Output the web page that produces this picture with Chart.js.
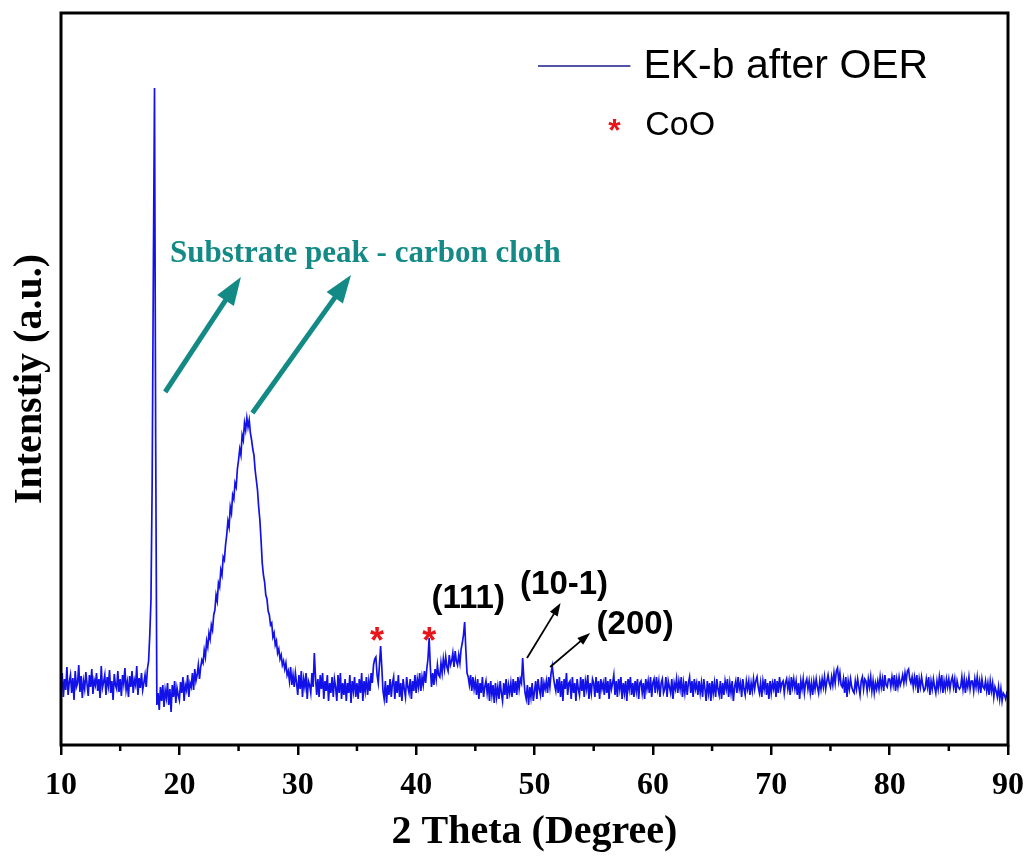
<!DOCTYPE html>
<html>
<head>
<meta charset="utf-8">
<script src="https://cdn.jsdelivr.net/npm/chart.js@4.4.1/dist/chart.umd.min.js"></script>
<style>
  html, body { margin: 0; padding: 0; background: #fff; }
  #wrap { width: 1030px; height: 857px; }
</style>
</head>
<body>
<div id="wrap"><canvas id="xrd" width="1030" height="857"></canvas></div>
<script>
const START = 10
const STEP = 0.1

// intensity (a.u.), one row per degree: x.0 ... x.9
const intensity = [
  60, 72, 48, 66, 55, 78, 50, 63, 70, 52,        // 10
  67, 45, 74, 58, 62, 80, 53, 69, 47, 64,        // 11
  56, 73, 61, 49, 70, 58, 76, 51, 65, 60,        // 12
  72, 54, 66, 47, 79, 57, 63, 70, 50, 68,        // 13
  59, 75, 52, 64, 45, 71, 60, 56, 74, 53,        // 14
  66, 49, 70, 61, 77, 55, 63, 48, 69, 58,        // 15
  74, 52, 65, 60, 79, 50, 67, 57, 72, 55,        // 16
  62, 70, 58, 76, 84, 110, 145, 260, 470, 657,   // 17
  300, 40, 52, 35, 58, 44, 60, 38, 55, 47,       // 18
  62, 40, 56, 33, 60, 48, 64, 42, 57, 50,        // 19
  45, 63, 52, 68, 44, 60, 55, 70, 48, 62,        // 20
  58, 72, 55, 76, 64, 70, 80, 66, 78, 85,        // 21
  82, 95, 88, 104, 98, 112, 106, 120, 115, 130,  // 22
  135, 150, 144, 162, 158, 175, 170, 188, 185, 200, // 23
  210, 224, 218, 238, 232, 250, 246, 262, 258, 276, // 24
  285, 296, 290, 310, 305, 322, 315, 327, 318, 325, // 25
  312, 305, 296, 290, 275, 265, 255, 238, 225, 205, // 26
  182, 170, 163, 150, 146, 134, 130, 120, 122, 108, // 27
  112, 100, 104, 92, 96, 86, 90, 80, 84, 76,     // 28
  82, 70, 74, 64, 78, 60, 70, 58, 72, 62,        // 29
  50, 70, 56, 74, 48, 66, 58, 72, 46, 64,        // 30
  60, 52, 72, 58, 92, 68, 50, 66, 48, 70,        // 31
  56, 72, 46, 64, 54, 70, 44, 62, 52, 68,        // 32
  48, 66, 58, 44, 70, 52, 72, 46, 62, 50,        // 33
  66, 44, 62, 52, 70, 42, 64, 54, 68, 48,        // 34
  62, 46, 66, 52, 72, 44, 64, 54, 68, 50,        // 35
  64, 54, 72, 62, 80, 86, 88, 70, 62, 80,        // 36
  99, 78, 54, 46, 64, 42, 60, 50, 66, 48,        // 37
  62, 68, 46, 64, 52, 70, 48, 62, 44, 66,        // 38
  56, 48, 68, 58, 52, 66, 46, 64, 54, 70,        // 39
  52, 66, 58, 72, 54, 68, 60, 74, 62, 76,        // 40
  86, 107, 78, 58, 72, 60, 76, 66, 80, 70,       // 41
  68, 82, 72, 86, 76, 88, 78, 74, 90, 80,        // 42
  84, 92, 78, 94, 84, 80, 90, 82, 96, 102,       // 43
  110, 123, 95, 72, 68, 60, 70, 54, 68, 56,      // 44
  64, 50, 66, 46, 62, 52, 68, 48, 58, 64,        // 45
  52, 62, 44, 64, 50, 60, 42, 62, 48, 58,        // 46
  46, 64, 52, 44, 62, 50, 66, 46, 60, 52,        // 47
  62, 48, 66, 52, 64, 50, 68, 56, 66, 62,        // 48
  87, 66, 52, 46, 60, 40, 58, 48, 62, 44,        // 49
  54, 64, 46, 66, 56, 50, 68, 48, 62, 56,        // 50
  64, 52, 68, 58, 72, 79, 68, 60, 54, 66,        // 51
  52, 68, 48, 64, 44, 66, 56, 72, 50, 62,        // 52
  64, 46, 68, 52, 62, 44, 66, 56, 50, 68,        // 53
  54, 66, 48, 64, 56, 70, 46, 62, 52, 66,        // 54
  62, 48, 68, 52, 64, 46, 66, 56, 62, 50,        // 55
  68, 52, 64, 46, 66, 56, 62, 70, 50, 64,        // 56
  48, 66, 56, 68, 46, 62, 52, 64, 44, 66,        // 57
  56, 68, 50, 62, 48, 64, 54, 66, 46, 62,        // 58
  64, 52, 62, 46, 66, 56, 64, 52, 68, 48,        // 59
  62, 66, 52, 68, 56, 64, 48, 62, 66, 52,        // 60
  56, 68, 48, 64, 58, 52, 66, 46, 62, 56,        // 61
  66, 52, 64, 56, 68, 48, 62, 52, 64, 50,        // 62
  62, 68, 52, 64, 48, 66, 56, 62, 50, 64,        // 63
  52, 62, 48, 66, 56, 44, 64, 52, 62, 44,        // 64
  64, 52, 62, 48, 66, 56, 50, 64, 46, 62,        // 65
  50, 64, 56, 66, 48, 62, 52, 64, 44, 58,        // 66
  64, 52, 68, 56, 62, 48, 66, 56, 50, 64,        // 67
  56, 64, 50, 62, 54, 66, 56, 64, 68, 58,        // 68
  52, 62, 48, 64, 56, 66, 50, 62, 46, 64,        // 69
  52, 62, 56, 66, 48, 64, 52, 68, 56, 62,        // 70
  64, 52, 62, 66, 56, 64, 50, 68, 58, 66,        // 71
  56, 64, 50, 62, 46, 64, 56, 66, 52, 62,        // 72
  66, 56, 64, 52, 62, 50, 64, 56, 66, 58,        // 73
  52, 64, 56, 66, 58, 68, 56, 64, 70, 62,        // 74
  58, 68, 60, 72, 62, 74, 77, 64, 72, 60,        // 75
  58, 66, 52, 68, 48, 64, 56, 66, 58, 54,        // 76
  52, 64, 56, 66, 58, 50, 64, 68, 56, 66,        // 77
  64, 54, 66, 58, 68, 54, 64, 52, 62, 56,        // 78
  64, 56, 68, 58, 66, 54, 70, 60, 58, 66,        // 79
  66, 58, 68, 60, 70, 54, 66, 58, 68, 60,        // 80
  64, 70, 62, 72, 64, 74, 76, 66, 62, 68,        // 81
  58, 68, 60, 70, 52, 66, 58, 68, 60, 54,        // 82
  56, 66, 58, 68, 50, 64, 56, 66, 58, 52,        // 83
  64, 56, 68, 58, 70, 52, 64, 56, 66, 58,        // 84
  66, 56, 64, 68, 58, 66, 52, 64, 58, 56,        // 85
  58, 68, 56, 66, 52, 64, 58, 68, 56, 64,        // 86
  64, 54, 66, 58, 68, 56, 64, 52, 66, 58,        // 87
  56, 64, 54, 62, 50, 64, 54, 62, 48, 58,        // 88
  54, 48, 58, 46, 56, 44, 52, 50, 46, 52,        // 89
  50                                             // 90
]

const xTicks = [10, 20, 30, 40, 50, 60, 70, 80, 90]
const xMinor = [15, 25, 35, 45, 55, 65, 75, 85]

// peak labels: [text, 2theta, intensity]
const hklLabels = [['(111)', 44.4, 146], ['(10-1)', 52.5, 160], ['(200)', 58.5, 120]]
const cooStars = [[36.7, 113], [41.1, 113]]
// pointer arrows: [from 2theta, from I, to 2theta, to I]
const hklArrows = [[49.37, 87, 52.2, 142], [51.32, 78, 54.7, 112]]
const substrateArrows = [[18.8, 353, 25.2, 468], [26.17, 332, 34.5, 470]]

const points = intensity.map((v, i) => ({ x: +(START + i * STEP).toFixed(1), y: v }))

const TEAL = '#138a85'
const SERIF = '"Liberation Serif", "Times New Roman", serif'
const SANS = '"Liberation Sans", Arial, sans-serif'

function arrow(ctx, x1, y1, x2, y2, lw, headLen, headW, color) {
  const a = Math.atan2(y2 - y1, x2 - x1)
  const bx = x2 - Math.cos(a) * headLen
  const by = y2 - Math.sin(a) * headLen
  ctx.strokeStyle = color
  ctx.fillStyle = color
  ctx.lineWidth = lw
  ctx.beginPath()
  ctx.moveTo(x1, y1)
  ctx.lineTo(bx + Math.cos(a) * 2, by + Math.sin(a) * 2)
  ctx.stroke()
  ctx.beginPath()
  ctx.moveTo(x2, y2)
  ctx.lineTo(bx + Math.sin(a) * headW / 2, by - Math.cos(a) * headW / 2)
  ctx.lineTo(bx - Math.sin(a) * headW / 2, by + Math.cos(a) * headW / 2)
  ctx.closePath()
  ctx.fill()
}

const overlay = {
  id: 'overlay',
  afterDraw(chart) {
    const { ctx, chartArea: ca, scales: { x, y } } = chart
    ctx.save()

    // frame
    ctx.strokeStyle = '#000'
    ctx.lineWidth = 3
    ctx.strokeRect(ca.left, ca.top, ca.right - ca.left, ca.bottom - ca.top)

    // minor ticks
    ctx.lineWidth = 2.5
    xMinor.forEach(v => {
      const px = x.getPixelForValue(v)
      ctx.beginPath()
      ctx.moveTo(px, ca.bottom)
      ctx.lineTo(px, ca.bottom + 6)
      ctx.stroke()
    })

    // substrate annotation
    ctx.fillStyle = TEAL
    ctx.font = 'bold 31px ' + SERIF
    ctx.textAlign = 'left'
    ctx.textBaseline = 'middle'
    ctx.fillText('Substrate peak - carbon cloth', x.getPixelForValue(19.2), y.getPixelForValue(491))
    substrateArrows.forEach(([a, b, c, d]) => {
      arrow(ctx, x.getPixelForValue(a), y.getPixelForValue(b), x.getPixelForValue(c), y.getPixelForValue(d), 5, 28, 20, TEAL)
    })

    // CoO stars
    ctx.fillStyle = '#e8161b'
    ctx.font = 'bold 36px ' + SANS
    ctx.textAlign = 'center'
    ctx.textBaseline = 'alphabetic'
    cooStars.forEach(([a, b]) => {
      ctx.fillText('*', x.getPixelForValue(a), y.getPixelForValue(b) + 21)
    })

    // hkl labels and arrows
    ctx.fillStyle = '#000'
    ctx.font = 'bold 33px ' + SANS
    ctx.textBaseline = 'middle'
    hklLabels.forEach(([t, a, b]) => {
      ctx.fillText(t, x.getPixelForValue(a), y.getPixelForValue(b))
    })
    hklArrows.forEach(([a, b, c, d]) => {
      arrow(ctx, x.getPixelForValue(a), y.getPixelForValue(b), x.getPixelForValue(c), y.getPixelForValue(d), 1.8, 13, 9, '#000')
    })

    // legend
    const ly = y.getPixelForValue(679)
    ctx.strokeStyle = '#1a1a8c'
    ctx.lineWidth = 1.5
    ctx.beginPath()
    ctx.moveTo(x.getPixelForValue(50.3), ly)
    ctx.lineTo(x.getPixelForValue(58.1), ly)
    ctx.stroke()
    ctx.fillStyle = '#000'
    ctx.textAlign = 'left'
    ctx.font = '41px ' + SANS
    ctx.fillText('EK-b after OER', x.getPixelForValue(59.2), ly + 1)

    const sy = y.getPixelForValue(620)
    ctx.fillStyle = '#e8161b'
    ctx.textAlign = 'center'
    ctx.textBaseline = 'alphabetic'
    ctx.font = 'bold 32px ' + SANS
    ctx.fillText('*', x.getPixelForValue(56.75), sy + 16)
    ctx.fillStyle = '#000'
    ctx.textAlign = 'left'
    ctx.textBaseline = 'middle'
    ctx.font = '34px ' + SANS
    ctx.fillText('CoO', x.getPixelForValue(59.35), sy + 1)

    ctx.restore()
  }
}

new Chart(document.getElementById('xrd'), {
  type: 'line',
  data: {
    datasets: [{
      label: 'EK-b after OER',
      data: points,
      borderColor: '#1212e8',
      borderWidth: 1.7,
      pointRadius: 0,
      tension: 0,
      fill: false
    }]
  },
  options: {
    responsive: false,
    animation: false,
    layout: { padding: { top: 13, right: 22, bottom: 0, left: 0 } },
    plugins: { legend: { display: false }, tooltip: { enabled: false } },
    scales: {
      x: {
        type: 'linear',
        min: 10,
        max: 90,
        afterFit: s => { s.height = 112; s.paddingLeft = 0; s.paddingRight = 0 },
        afterBuildTicks: s => { s.ticks = xTicks.map(v => ({ value: v })) },
        border: { display: false },
        grid: { drawOnChartArea: false, drawTicks: true, tickLength: 10, color: '#000', lineWidth: 2.5 },
        ticks: {
          color: '#000',
          padding: 12,
          maxRotation: 0,
          font: { family: SERIF, size: 32, weight: 'bold' }
        },
        title: {
          display: true,
          text: '2 Theta (Degree)',
          color: '#000',
          padding: { top: 0, bottom: 0 },
          font: { family: SERIF, size: 40, weight: 'bold' }
        }
      },
      y: {
        min: 0,
        max: 732,
        afterFit: s => { s.width = 61 },
        border: { display: false },
        grid: { display: false },
        ticks: { display: false },
        title: {
          display: true,
          text: 'Intenstiy (a.u.)',
          color: '#000',
          padding: { top: 7, bottom: 0 },
          font: { family: SERIF, size: 40, weight: 'bold' }
        }
      }
    }
  },
  plugins: [overlay]
})
</script>
</body>
</html>
